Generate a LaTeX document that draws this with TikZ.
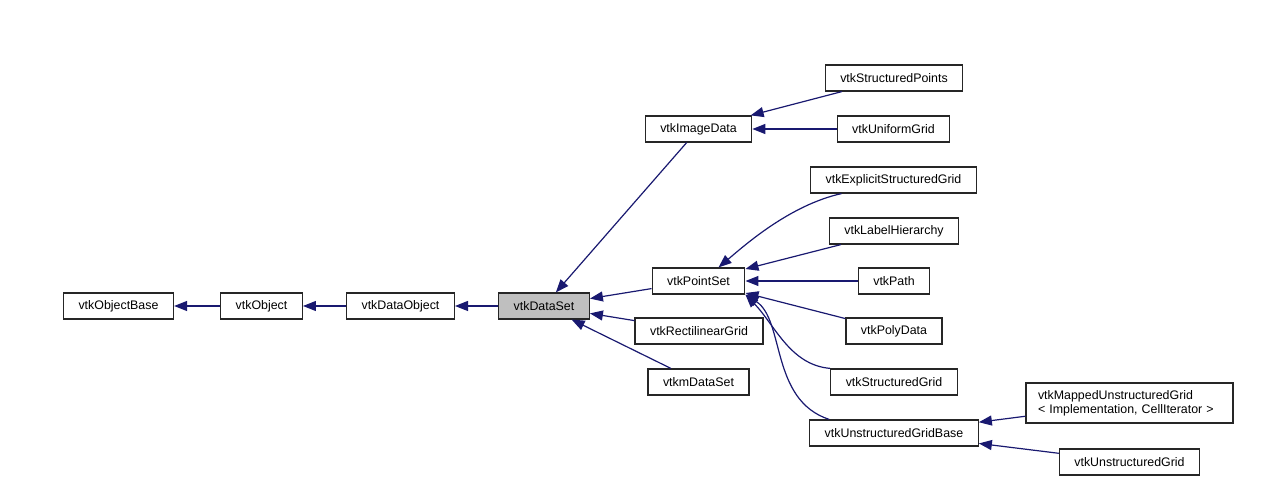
\documentclass[tikz,border=0pt]{standalone}
\usepackage{fontspec}
\setmainfont{Liberation Sans}
\usepackage{tikz}
\usetikzlibrary{arrows.meta}

\definecolor{edgeblue}{HTML}{191970}

\begin{document}
\begin{tikzpicture}[x=1pt, y=-1pt]
\tikzstyle{cls} = [rectangle, draw=black!85, fill=white, line width=1.2pt, minimum height=26pt, inner xsep=15pt, font=\fontsize{12.4}{14}\selectfont]
\tikzstyle{cur} = [cls, fill=black!25]
\tikzstyle{inh} = [draw=edgeblue, line width=1.2pt, {Triangle[length=13pt, width=10pt]}-]

\useasboundingbox (0,0) rectangle (1278,486);

\node (objbase) [cls] at (118.5,306) {vtkObjectBase};
\node (obj) [cls] at (261.5,306) {vtkObject};
\node (dobj) [cls] at (400.5,306) {vtkDataObject};
\node (ds) [cur] at (544,306) {vtkDataSet};

\node (img) [cls] at (698.5,129) {vtkImageData};
\node (ps) [cls] at (698.5,281) {vtkPointSet};
\node (rg) [cls] at (699,331) {vtkRectilinearGrid};
\node (vtkm) [cls] at (698.5,382) {vtkmDataSet};

\node (spts) [cls] at (894,78) {vtkStructuredPoints};
\node (ug) [cls] at (893.5,129) {vtkUniformGrid};
\node (esg) [cls] at (893.5,180) {vtkExplicitStructuredGrid};
\node (lh) [cls] at (894,231) {vtkLabelHierarchy};
\node (path) [cls] at (894,281) {vtkPath};
\node (pd) [cls] at (894,331) {vtkPolyData};
\node (sg) [cls] at (894,382) {vtkStructuredGrid};
\node (ugb) [cls] at (894,433) {vtkUnstructuredGridBase};

\node (mug) [cls, minimum height=40pt, inner xsep=12pt, text width=183pt, align=left] at (1129.5,403) {vtkMappedUnstructuredGrid\\< Implementation, CellIterator >};
\node (ugrid) [cls] at (1129.5,462) {vtkUnstructuredGrid};

\draw [inh] (objbase) -- (obj);
\draw [inh] (obj) -- (dobj);
\draw [inh] (dobj) -- (ds);

\draw [inh] (ds) -- (img);
\draw [inh] (ds) -- (ps);
\draw [inh] (ds) -- (rg);
\draw [inh] (ds) -- (vtkm);

\draw [inh] (img) -- (spts);
\draw [inh] (img) -- (ug);

\draw [inh] ([xshift=20pt]ps.north) .. controls (745,245) and (790,205) .. ([xshift=-52pt]esg.south);
\draw [inh] (ps) -- (lh);
\draw [inh] (ps) -- (path);
\draw [inh] (ps) -- (pd);
\draw [inh] (ps.south east) .. controls (775,325) and (790,365) .. (sg.north west);
\draw [inh] (ps.south east) .. controls (785,320) and (770,400) .. ([xshift=20pt]ugb.north west);

\draw [inh] (ugb) -- (mug);
\draw [inh] (ugb) -- (ugrid);

\end{tikzpicture}
\end{document}
